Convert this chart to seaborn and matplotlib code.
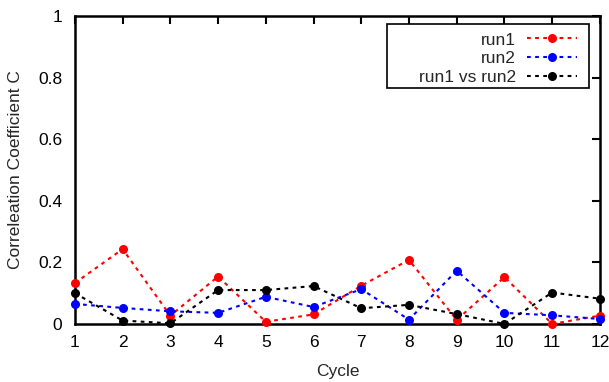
import numpy as np
import pandas as pd
import matplotlib
matplotlib.use("Agg")
import matplotlib.pyplot as plt
from matplotlib.patches import Rectangle
import seaborn as sns

cycles = [1, 2, 3, 4, 5, 6, 7, 8, 9, 10, 11, 12]
run1 = [0.133, 0.243, 0.027, 0.154, 0.007, 0.031, 0.124, 0.208, 0.013, 0.152, 0.0, 0.027]
run2 = [0.065, 0.052, 0.041, 0.036, 0.088, 0.055, 0.113, 0.014, 0.173, 0.036, 0.028, 0.016]
run12 = [0.100, 0.011, 0.002, 0.110, 0.110, 0.123, 0.051, 0.062, 0.032, 0.0, 0.102, 0.082]
series_names = ["run1", "run2", "run1 vs run2"]
colors = ["#ff0000", "#0000ff", "#000000"]
yticks = [0, 0.2, 0.4, 0.6, 0.8, 1]
ytick_labels = ["0", "0.2", "0.4", "0.6", "0.8", "1"]

df = pd.DataFrame({
    "Cycle": cycles * 3,
    "C": run1 + run2 + run12,
    "series": [series_names[0]] * 12 + [series_names[1]] * 12 + [series_names[2]] * 12,
})

sns.set_style("white")
plt.rcParams["font.family"] = ["Liberation Sans", "DejaVu Sans"]
FS = 12.5
DASH = (0, (1.8, 2.1))

fig = plt.figure(figsize=(6.09, 3.82), dpi=100)
ax = fig.add_axes([0.123, 0.152, 0.862, 0.806])

sns.lineplot(data=df, x="Cycle", y="C", hue="series", hue_order=series_names,
             palette=colors, marker="o", markersize=6.5, markeredgewidth=0,
             linewidth=1.5, ax=ax, legend=True, zorder=3)
for line in ax.get_lines():
    line.set_linestyle(DASH)
    line.set_clip_on(False)

ax.set_xlim(1, 12)
ax.set_ylim(0, 1)
ax.set_xticks(cycles)
ax.set_xticklabels([str(c) for c in cycles])
ax.set_yticks(yticks)
ax.set_yticklabels(ytick_labels)
ax.tick_params(direction="in", length=6, width=1.5, top=True, right=True,
               labelsize=FS, colors="black")
ax.tick_params(axis="y", pad=9)
ax.tick_params(axis="x", pad=8)
for s in ax.spines.values():
    s.set_linewidth(1.8)
    s.set_color("black")
ax.set_xlabel("Cycle", fontsize=FS, labelpad=10)
ax.set_ylabel("Correleation Coefficient C", fontsize=FS, labelpad=11)

# legend frame (gnuplot style box)
ax.add_patch(Rectangle((0.594, 0.766), 0.979 - 0.594, 0.974 - 0.766,
                       transform=ax.transAxes, fill=True, facecolor="white",
                       edgecolor="black", linewidth=1.2, zorder=4, clip_on=False))

handles, labels = ax.get_legend_handles_labels()
for h in handles:
    h.set_linestyle(DASH)
leg = ax.legend(handles, labels, loc="upper right", markerfirst=False,
                frameon=False, fontsize=FS, handlelength=2.87,
                borderpad=0, labelspacing=0.22, bbox_to_anchor=(0.956, 0.947),
                borderaxespad=0, handletextpad=0.63)
leg.set_zorder(5)

fig.savefig("out.png", dpi=100)
